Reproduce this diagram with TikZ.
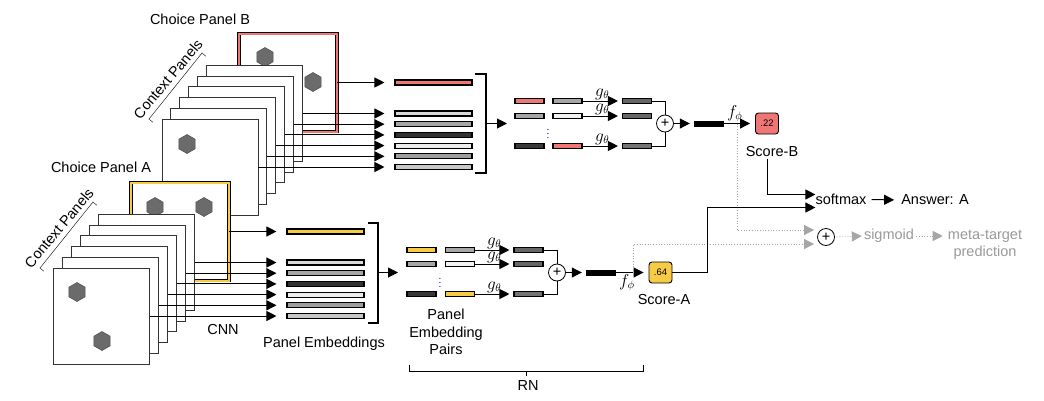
\documentclass[tikz,border=0pt]{standalone}
\usepackage{fontspec}
\setmainfont{Liberation Sans}
\usepackage{amsmath}
\usepackage{tikz}
\usetikzlibrary{shapes.geometric,arrows.meta}
\definecolor{scorered}{RGB}{240,118,118}
\definecolor{scoreyellow}{RGB}{247,203,69}

\begin{document}
\begin{tikzpicture}[x=1pt,y=-1pt,font=\fontsize{14.5}{17.5}\selectfont,inner sep=1.5pt,
  panel/.style={draw=black!80,fill=white,line width=0.9,minimum size=96,inner sep=0},
  choice/.style={draw=black,fill=white,line width=0.8,double distance=2,minimum size=98,inner sep=0},
  hexa/.style={regular polygon,regular polygon sides=6,shape border rotate=30,minimum size=19,fill=black!58,draw=black!70,line width=0.5,inner sep=0},
  embbar/.style={draw=black,line width=1.1,minimum width=77,minimum height=5,inner sep=0},
  pairbar/.style={embbar,minimum width=29},
  hbar/.style={fill=black,minimum width=30,minimum height=6,inner sep=0},
  score/.style={draw=black,line width=0.9,rounded corners=3,minimum width=23,minimum height=21,inner sep=0,font=\fontsize{9.5}{11}\selectfont},
  oplus/.style={circle,draw=black,fill=white,line width=0.8,minimum size=17,inner sep=0},
  mlabel/.style={font=\fontsize{16}{18}\selectfont,inner sep=1pt},
  arr/.style={-{Triangle[length=10pt,width=10pt]},line width=1},
  dotarr/.style={-{Triangle[length=10pt,width=10pt]},black!35,dotted,line width=0.7},
  brk/.style={line width=1.4}]
\useasboundingbox (0,0) rectangle (1044,400);
% Choice Panel B
\node at (288,82.5) [choice,double=scorered] (ChoiceB) {};
\node at (265,57) [hexa] (HexB1) {};
\node at (313,82) [hexa] (HexB2) {};
% Context Panels B
\node at (254.5,113.5) [panel] (CtxB1) {};
\node at (245.6,124.2) [panel] (CtxB2) {};
\node at (236.7,134.9) [panel] (CtxB3) {};
\node at (227.8,145.6) [panel] (CtxB4) {};
\node at (218.9,156.3) [panel] (CtxB5) {};
\node at (210,167) [panel] (CtxB6) {};
\node at (187,144) [hexa] (HexB3) {};
% Choice Panel A
\node at (180,231.5) [choice,double=scoreyellow] (ChoiceA) {};
\node at (155,207) [hexa] (HexA1) {};
\node at (204,207) [hexa] (HexA2) {};
% Context Panels A
\node at (146.3,262.5) [panel] (CtxA1) {};
\node at (137.4,273.2) [panel] (CtxA2) {};
\node at (128.5,283.9) [panel] (CtxA3) {};
\node at (119.6,294.6) [panel] (CtxA4) {};
\node at (110.7,305.3) [panel] (CtxA5) {};
\node at (101.8,316) [panel] (CtxA6) {};
\node at (77,292) [hexa] (HexA3) {};
\node at (102,341) [hexa] (HexA4) {};
% Panel Embeddings
\node at (433.5,82.5) [embbar,fill=scorered] (BarB0) {};
\node at (433.5,113.5) [embbar,fill=black!15] (BarB1) {};
\node at (433.5,124.2) [embbar,fill=black!35] (BarB2) {};
\node at (433.5,134.9) [embbar,fill=black!80] (BarB3) {};
\node at (433.5,145.6) [embbar,fill=black!7] (BarB4) {};
\node at (433.5,156.3) [embbar,fill=black!38] (BarB5) {};
\node at (433.5,167) [embbar,fill=black!22] (BarB6) {};
\node at (325.5,231.5) [embbar,fill=scoreyellow] (BarA0) {};
\node at (325.5,262.5) [embbar,fill=black!15] (BarA1) {};
\node at (325.5,273.2) [embbar,fill=black!35] (BarA2) {};
\node at (325.5,283.9) [embbar,fill=black!80] (BarA3) {};
\node at (325.5,294.6) [embbar,fill=black!7] (BarA4) {};
\node at (325.5,305.3) [embbar,fill=black!38] (BarA5) {};
\node at (325.5,316) [embbar,fill=black!22] (BarA6) {};
% CNN Connections
\draw [arr,shorten >=10pt] (ChoiceB.east) -- (BarB0.west);
\draw [arr,shorten >=10pt] (CtxB1.east) -- (BarB1.west);
\draw [arr,shorten >=10pt] (CtxB2.east) -- (BarB2.west);
\draw [arr,shorten >=10pt] (CtxB3.east) -- (BarB3.west);
\draw [arr,shorten >=10pt] (CtxB4.east) -- (BarB4.west);
\draw [arr,shorten >=10pt] (CtxB5.east) -- (BarB5.west);
\draw [arr,shorten >=10pt] (CtxB6.east) -- (BarB6.west);
\draw [arr,shorten >=10pt] (ChoiceA.east) -- (BarA0.west);
\draw [arr,shorten >=10pt] (CtxA1.east) -- (BarA1.west);
\draw [arr,shorten >=10pt] (CtxA2.east) -- (BarA2.west);
\draw [arr,shorten >=10pt] (CtxA3.east) -- (BarA3.west);
\draw [arr,shorten >=10pt] (CtxA4.east) -- (BarA4.west);
\draw [arr,shorten >=10pt] (CtxA5.east) -- (BarA5.west);
\draw [arr,shorten >=10pt] (CtxA6.east) -- (BarA6.west);
% Brackets
\draw (152.8,122.2) -- (149,119) -- (202,53) -- (205.8,56.2);
\draw (43.8,271.2) -- (40,268) -- (93,202) -- (96.8,205.2);
\draw [brk] (475,74) -- (486,74) -- (486,173) -- (475,173);
\draw [brk] (368,223) -- (378,223) -- (378,323) -- (368,323);
\draw (409,365) -- (409,371) -- (643,371) -- (643,365);
\draw (526,371) -- (526,376);
\coordinate (BrkB) at (486,123.5);
\coordinate (InB) at (507,123.5);
\coordinate (BrkA) at (378,272.5);
\coordinate (InA) at (398,272.5);
\draw [arr] (BrkB) -- (InB);
\draw [arr] (BrkA) -- (InA);
% Panel Embedding Pairs B
\node at (529.5,101) [pairbar,fill=scorered] (PairB11) {};
\node at (567.5,101) [pairbar,fill=black!35] (PairB12) {};
\node at (637,101) [pairbar,fill=black!60] (PairB13) {};
\node at (529.5,116) [pairbar,fill=black!35] (PairB21) {};
\node at (567.5,116) [pairbar,fill=black!5] (PairB22) {};
\node at (637,116) [pairbar,fill=black!60] (PairB23) {};
\node at (529.5,146) [pairbar,fill=black!78] (PairB31) {};
\node at (567.5,146) [pairbar,fill=scorered] (PairB32) {};
\node at (637,146) [pairbar,fill=black!55] (PairB33) {};
\node at (548,131) [blue!60!black,inner sep=0,font=\fontsize{10}{10}\selectfont] (DotsB) {$\vdots$};
% Panel Embedding Pairs A
\node at (421.5,250) [pairbar,fill=scoreyellow] (PairA11) {};
\node at (460,250) [pairbar,fill=black!35] (PairA12) {};
\node at (528.5,250) [pairbar,fill=black!60] (PairA13) {};
\node at (421.5,264) [pairbar,fill=black!35] (PairA21) {};
\node at (460,264) [pairbar,fill=black!5] (PairA22) {};
\node at (528.5,264) [pairbar,fill=black!60] (PairA23) {};
\node at (421.5,294) [pairbar,fill=black!78] (PairA31) {};
\node at (460,294) [pairbar,fill=scoreyellow] (PairA32) {};
\node at (528.5,294) [pairbar,fill=black!55] (PairA33) {};
\node at (440,280) [blue!60!black,inner sep=0,font=\fontsize{10}{10}\selectfont] (DotsA) {$\vdots$};
% g Connections
\draw [arr,shorten >=4pt] (PairB12.east) -- (PairB13.west) node [midway,above,mlabel] {$g_\theta$};
\draw [arr,shorten >=4pt] (PairB22.east) -- (PairB23.west) node [midway,above,mlabel] {$g_\theta$};
\draw [arr,shorten >=4pt] (PairB32.east) -- (PairB33.west) node [midway,above,mlabel] {$g_\theta$};
\draw [arr,shorten >=4pt] (PairA12.east) -- (PairA13.west) node [midway,above,mlabel] {$g_\theta$};
\draw [arr,shorten >=4pt] (PairA22.east) -- (PairA23.west) node [midway,above,mlabel] {$g_\theta$};
\draw [arr,shorten >=4pt] (PairA32.east) -- (PairA33.west) node [midway,above,mlabel] {$g_\theta$};
% Sum and Scores
\node at (665,123.5) [oplus] (OplusB) {+};
\node at (557,272.5) [oplus] (OplusA) {+};
\draw (PairB13.east) -| (OplusB.north);
\draw (PairB33.east) -| (OplusB.south);
\draw (PairA13.east) -| (OplusA.north);
\draw (PairA33.east) -| (OplusA.south);
\node at (709,123.5) [hbar] (HB) {};
\node at (601,272.5) [hbar] (HA) {};
\draw [arr,shorten >=4pt] (OplusB.east) -- (HB.west);
\draw [arr,shorten >=4pt] (OplusA.east) -- (HA.west);
\node at (767,123.5) [score,fill=scorered] (ScoreB) {.22};
\node at (660.5,272.5) [score,fill=scoreyellow] (ScoreA) {.64};
\draw [arr,shorten >=5pt] (HB.east) -- (ScoreB.west) node [pos=0.34,above,mlabel] {$f_\phi$};
\draw [arr,shorten >=5pt] (HA.east) -- (ScoreA.west) node [pos=0.33,below,mlabel] {$f_\phi$};
\path (HB.east) -- (ScoreB.west) coordinate [pos=0.41] (FB);
\path (HA.east) -- (ScoreA.west) coordinate [pos=0.52] (FA);
% Node Labels
\node at (200,19) (LabelChoiceB) {Choice Panel B};
\node at (101,167) (LabelChoiceA) {Choice Panel A};
\node at (168,79) [rotate=50] (LabelCtxB) {Context Panels};
\node at (59,228) [rotate=50] (LabelCtxA) {Context Panels};
\node at (223,330) (LabelCNN) {CNN};
\node at (324,344) (LabelEmb) {Panel Embeddings};
\node at (446,332) [align=center] (LabelPairs) {Panel\\Embedding\\Pairs};
\node at (528,386) (LabelRN) {RN};
\node at (772,152) (LabelScoreB) {Score-B};
\node at (664,300) (LabelScoreA) {Score-A};
% Output
\node at (841,199.5) [inner sep=0] (Softmax) {softmax};
\node at (935,200) [inner sep=0] (Answer) {Answer: A};
\node at (826,237) [oplus] (OplusM) {+};
\node at (889,236) [inner sep=0,black!40] (Sigmoid) {sigmoid};
\node at (985,245) [inner sep=0,black!40,align=center] (Meta) {meta-target\\prediction};
\draw [dotarr,shorten >=3pt] (FB) |- ([yshift=7pt]OplusM.west);
\draw [dotarr,shorten >=3pt] (FA) |- ([yshift=-7pt]OplusM.west);
\draw [arr] (LabelScoreB.south -| ScoreB.south) |- ([yshift=5pt]Softmax.west);
\draw [arr] (ScoreA.east) -- ++(35,0) |- ([yshift=-8pt]Softmax.west);
\draw [arr,shorten <=5pt,shorten >=7pt] (Softmax.east) -- (Answer.west);
\draw [dotarr,shorten <=2pt,shorten >=2pt] (OplusM.east) -- (Sigmoid.west);
\draw [dotarr,shorten <=2pt,shorten >=5pt] (Sigmoid.east) -- (Sigmoid.east -| Meta.west);
\end{tikzpicture}
\end{document}
